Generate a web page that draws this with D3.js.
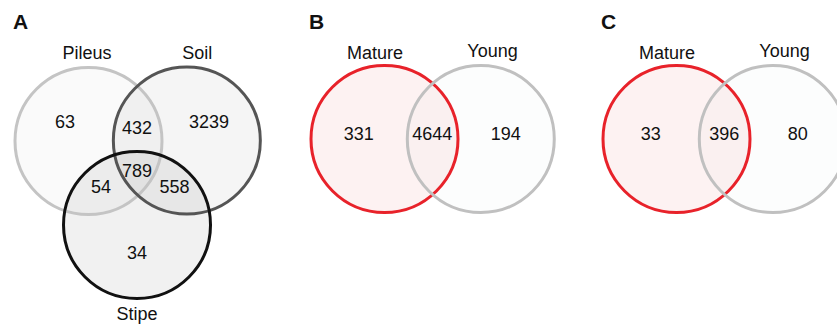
<!DOCTYPE html>
<html>
<head>
<meta charset="utf-8">
<script src="https://cdn.jsdelivr.net/npm/d3@7"></script>
<style>
  html, body { margin: 0; padding: 0; background: #fff; }
  svg { display: block; }
  text { font-family: "Liberation Sans", Arial, Helvetica, sans-serif; fill: #111; }
</style>
</head>
<body>
<svg id="chart" width="837" height="324"></svg>
<script>
// Panel A: three-way overlap of OTUs among pileus, soil and stipe
const setsA = ["Pileus", "Soil", "Stipe"];
const regionsA = ["Pileus", "Pileus&Soil", "Soil", "Pileus&Soil&Stipe", "Pileus&Stipe", "Soil&Stipe", "Stipe"];
const countsA = [63, 432, 3239, 789, 54, 558, 34];

// Panels B and C: mature vs. young fruiting bodies
const setsBC = ["Mature", "Young"];
const regionsBC = ["Mature", "Mature&Young", "Young"];
const countsB = [331, 4644, 194];
const countsC = [33, 396, 80];

const panelLetters = ["A", "B", "C"];

const svg = d3.select("#chart");

// layout units: circle radius = 1; one unit maps to the same number of pixels everywhere
const R = 73.5;
const unit = d3.scaleLinear().domain([0, 1]).range([0, R]);

const styleA = {
  Pileus: { stroke: "#c4c4c4", fill: "rgba(0,0,0,0.02)" },
  Soil:   { stroke: "#555555", fill: "rgba(0,0,0,0.04)" },
  Stipe:  { stroke: "#111111", fill: "rgba(0,0,0,0.055)" }
};
const styleBC = {
  Mature: { stroke: "#e8222a", fill: "rgba(225,30,30,0.06)" },
  Young:  { stroke: "#c0c0c0", fill: "rgba(120,150,150,0.02)" }
};

// circle centres in layout units (relative to each panel origin)
const geomA = {
  Pileus: [0, 0],
  Soil:   [1.338, -0.007],
  Stipe:  [0.660, 1.143]
};
const geomBC = {
  Mature: [0, 0],
  Young:  [1.31, 0]
};

// region label anchors in layout units
const labelPosA = {
  "Pileus": [-0.32, -0.26],
  "Pileus&Soil": [0.66, -0.18],
  "Soil": [1.64, -0.26],
  "Pileus&Soil&Stipe": [0.66, 0.40],
  "Pileus&Stipe": [0.17, 0.62],
  "Soil&Stipe": [1.17, 0.62],
  "Stipe": [0.66, 1.52]
};
const labelPosBC = {
  "Mature": [-0.35, -0.07],
  "Mature&Young": [0.65, -0.07],
  "Young": [1.65, -0.07]
};

// set-name positions in layout units
const namePosA = {
  Pileus: [-0.02, -1.20],
  Soil:   [1.48, -1.20],
  Stipe:  [0.66, 2.35]
};
const namePosBC = {
  Mature: [-0.13, -1.18],
  Young:  [1.47, -1.21]
};

function drawVenn(origin, sets, geom, styles, regions, counts, labelPos, namePos, letter, letterPos) {
  const g = svg.append("g").attr("transform", `translate(${origin[0]},${origin[1]})`);

  g.selectAll("circle.fill")
    .data(sets)
    .join("circle")
    .attr("class", "fill")
    .attr("cx", d => unit(geom[d][0]))
    .attr("cy", d => unit(geom[d][1]))
    .attr("r", unit(1))
    .attr("fill", d => styles[d].fill)
    .attr("stroke", "none");

  g.selectAll("circle.edge")
    .data(sets)
    .join("circle")
    .attr("class", "edge")
    .attr("cx", d => unit(geom[d][0]))
    .attr("cy", d => unit(geom[d][1]))
    .attr("r", unit(1))
    .attr("fill", "none")
    .attr("stroke", d => styles[d].stroke)
    .attr("stroke-width", 3);

  g.selectAll("text.count")
    .data(regions.map((r, i) => ({ r, v: counts[i] })))
    .join("text")
    .attr("class", "count")
    .attr("x", d => unit(labelPos[d.r][0]))
    .attr("y", d => unit(labelPos[d.r][1]))
    .attr("dy", "0.36em")
    .attr("text-anchor", "middle")
    .attr("font-size", 18)
    .text(d => d.v);

  g.selectAll("text.name")
    .data(sets)
    .join("text")
    .attr("class", "name")
    .attr("x", d => unit(namePos[d][0]))
    .attr("y", d => unit(namePos[d][1]))
    .attr("dy", "0.36em")
    .attr("text-anchor", "middle")
    .attr("font-size", 18)
    .text(d => d);

  svg.append("text")
    .attr("x", letterPos[0])
    .attr("y", letterPos[1])
    .attr("font-size", 21)
    .attr("font-weight", "bold")
    .text(letter);
}

drawVenn([88.5, 141], setsA, geomA, styleA, regionsA, countsA, labelPosA, namePosA, panelLetters[0], [13, 29]);
drawVenn([384.5, 139], setsBC, geomBC, styleBC, regionsBC, countsB, labelPosBC, namePosBC, panelLetters[1], [309, 29]);
drawVenn([676.5, 139], setsBC, geomBC, styleBC, regionsBC, countsC, labelPosBC, namePosBC, panelLetters[2], [601, 29]);
</script>
</body>
</html>
